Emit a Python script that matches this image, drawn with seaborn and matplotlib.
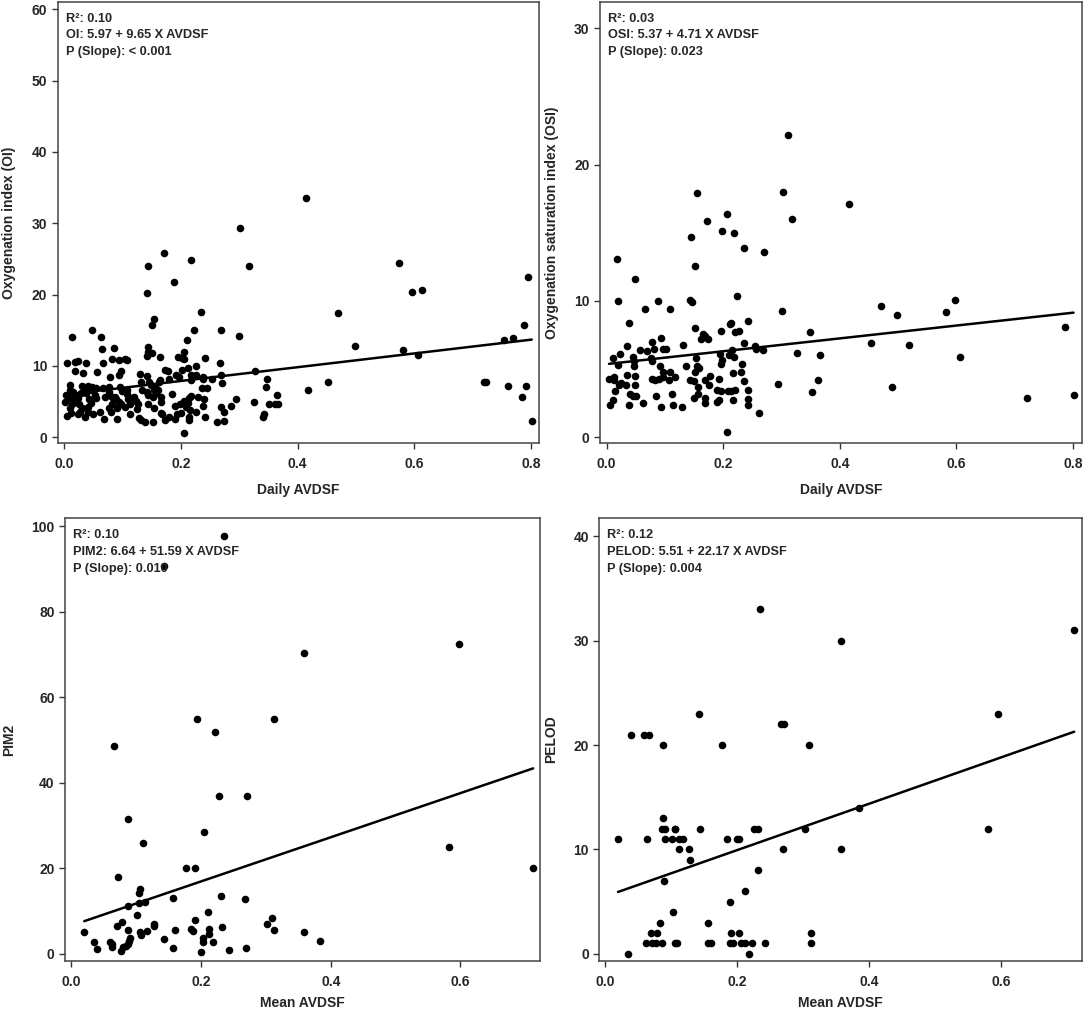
import numpy as np
import pandas as pd
import seaborn as sns
import matplotlib.pyplot as plt

# Panel A: daily AVDSF vs oxygenation index (OI)
oi_x = [0.415, 0.301, 0.171, 0.217, 0.143, 0.317, 0.573, 0.188, 0.794, 0.142,
        0.596, 0.613, 0.469, 0.234, 0.154, 0.150, 0.788, 0.047, 0.222, 0.269,
        0.014, 0.063, 0.300, 0.211, 0.754, 0.769, 0.498, 0.143, 0.064, 0.086,
        0.581, 0.143, 0.206, 0.607, 0.151, 0.142, 0.164, 0.195, 0.201, 0.241,
        0.081, 0.093, 0.104, 0.107, 0.206, 0.005, 0.019, 0.024, 0.037, 0.067,
        0.267, 0.225, 0.018, 0.056, 0.032, 0.098, 0.172, 0.177, 0.202, 0.212,
        0.326, 0.130, 0.093, 0.141, 0.191, 0.197, 0.217, 0.226, 0.237, 0.079,
        0.269, 0.180, 0.164, 0.238, 0.253, 0.348, 0.131, 0.146, 0.163, 0.218,
        0.270, 0.452, 0.719, 0.722, 0.009, 0.031, 0.041, 0.048, 0.055, 0.076,
        0.095, 0.149, 0.155, 0.345, 0.761, 0.792, 0.009, 0.015, 0.035, 0.045,
        0.066, 0.077, 0.099, 0.107, 0.133, 0.141, 0.153, 0.157, 0.161, 0.417,
        0.245, 0.236, 0.003, 0.019, 0.029, 0.037, 0.052, 0.069, 0.081, 0.087,
        0.108, 0.119, 0.144, 0.152, 0.165, 0.185, 0.218, 0.230, 0.365, 0.002,
        0.010, 0.016, 0.024, 0.043, 0.055, 0.088, 0.094, 0.109, 0.116, 0.123,
        0.166, 0.206, 0.213, 0.240, 0.294, 0.014, 0.026, 0.045, 0.082, 0.098,
        0.113, 0.126, 0.144, 0.198, 0.212, 0.325, 0.366, 0.351, 0.361, 0.785,
        0.010, 0.031, 0.041, 0.077, 0.090, 0.104, 0.153, 0.189, 0.208, 0.238,
        0.269, 0.285, 0.027, 0.041, 0.061, 0.080, 0.112, 0.124, 0.166, 0.193,
        0.200, 0.216, 0.226, 0.274, 0.342, 0.004, 0.011, 0.024, 0.035, 0.049,
        0.091, 0.128, 0.132, 0.138, 0.152, 0.167, 0.172, 0.179, 0.190, 0.213,
        0.214, 0.242, 0.068, 0.261, 0.274, 0.341, 0.801, 0.205]
oi_y = [33.5, 29.4, 25.9, 24.8, 24.0, 24.0, 24.5, 21.8, 22.5, 20.3,
        20.4, 20.7, 17.4, 17.5, 16.6, 15.7, 15.7, 15.0, 15.1, 15.1,
        14.1, 14.1, 14.2, 13.7, 13.7, 13.9, 12.8, 12.7, 12.4, 12.5,
        12.3, 12.0, 12.0, 11.5, 11.8, 11.4, 11.2, 11.3, 11.1, 11.1,
        11.0, 10.9, 11.0, 10.9, 11.0, 10.4, 10.5, 10.7, 10.4, 10.4,
        10.4, 10.0, 9.3, 9.2, 9.0, 9.3, 9.4, 9.3, 9.5, 9.7,
        9.3, 8.9, 8.7, 8.6, 8.7, 8.4, 8.7, 8.8, 8.5, 8.5,
        8.7, 8.2, 8.1, 8.2, 8.2, 8.2, 7.8, 7.7, 7.7, 8.0,
        7.6, 7.8, 7.8, 7.7, 7.4, 7.2, 7.2, 7.1, 6.9, 7.1,
        7.1, 7.4, 7.1, 7.0, 7.2, 7.2, 6.7, 6.4, 6.7, 6.6,
        6.9, 6.3, 6.5, 6.7, 6.7, 6.3, 6.7, 6.2, 6.6, 6.6,
        6.9, 6.9, 6.0, 6.0, 6.2, 6.2, 5.9, 5.7, 5.7, 5.6,
        6.1, 5.7, 6.0, 5.7, 5.6, 6.1, 5.8, 5.7, 6.0, 5.0,
        5.5, 5.3, 5.5, 5.3, 5.5, 5.3, 5.0, 5.3, 5.5, 5.1,
        5.0, 5.1, 5.5, 5.4, 5.4, 4.6, 4.7, 4.8, 4.6, 4.7,
        4.6, 4.6, 4.6, 4.6, 4.8, 4.9, 4.7, 4.6, 4.7, 5.6,
        4.1, 4.1, 4.2, 4.1, 4.1, 4.2, 4.1, 4.4, 4.2, 4.4,
        4.2, 4.4, 3.6, 3.5, 3.6, 3.5, 3.3, 3.9, 3.4, 3.3,
        3.4, 3.8, 3.6, 3.5, 3.3, 3.0, 3.4, 3.2, 2.8, 3.2,
        2.6, 2.7, 2.4, 2.1, 2.2, 3.2, 2.4, 2.9, 2.5, 2.8,
        2.4, 2.8, 2.5, 2.2, 2.3, 2.8, 2.3, 0.6]

# Panel B: daily AVDSF vs oxygenation saturation index (OSI)
osi_x = [0.311, 0.302, 0.155, 0.416, 0.206, 0.172, 0.318, 0.197, 0.219, 0.145,
         0.235, 0.270, 0.017, 0.152, 0.049, 0.224, 0.597, 0.020, 0.088, 0.143,
         0.146, 0.470, 0.065, 0.108, 0.301, 0.582, 0.498, 0.787, 0.039, 0.213,
         0.243, 0.212, 0.152, 0.196, 0.227, 0.220, 0.349, 0.165, 0.168, 0.094,
         0.162, 0.174, 0.078, 0.453, 0.131, 0.236, 0.519, 0.034, 0.096, 0.101,
         0.081, 0.255, 0.257, 0.215, 0.058, 0.070, 0.268, 0.022, 0.194, 0.327,
         0.210, 0.045, 0.218, 0.366, 0.607, 0.011, 0.076, 0.153, 0.197, 0.077,
         0.047, 0.020, 0.232, 0.196, 0.047, 0.091, 0.136, 0.155, 0.159, 0.152,
         0.230, 0.108, 0.097, 0.216, 0.034, 0.049, 0.117, 0.078, 0.083, 0.089,
         0.096, 0.178, 0.193, 0.004, 0.013, 0.012, 0.143, 0.168, 0.107, 0.025,
         0.033, 0.236, 0.363, 0.021, 0.149, 0.156, 0.176, 0.048, 0.294, 0.489,
         0.015, 0.190, 0.196, 0.208, 0.213, 0.220, 0.242, 0.040, 0.112, 0.157,
         0.352, 0.801, 0.045, 0.050, 0.085, 0.149, 0.169, 0.721, 0.011, 0.189,
         0.193, 0.216, 0.242, 0.063, 0.005, 0.039, 0.113, 0.169, 0.242, 0.094,
         0.129, 0.261, 0.206]
osi_y = [22.2, 18.0, 17.9, 17.1, 16.4, 15.9, 16.0, 15.1, 15.0, 14.7,
         13.9, 13.6, 13.1, 12.6, 11.6, 10.4, 10.1, 10.0, 10.0, 10.1,
         9.9, 9.6, 9.4, 9.4, 9.3, 9.2, 9.0, 8.1, 8.4, 8.4,
         8.5, 8.3, 8.0, 7.8, 7.8, 7.7, 7.7, 7.6, 7.4, 7.3,
         7.2, 7.2, 7.0, 6.9, 6.8, 6.9, 6.8, 6.7, 6.5, 6.5,
         6.5, 6.7, 6.5, 6.4, 6.4, 6.3, 6.4, 6.1, 6.1, 6.2,
         6.0, 5.9, 5.9, 6.0, 5.9, 5.8, 5.8, 5.8, 5.7, 5.6,
         5.6, 5.3, 5.4, 5.4, 5.2, 5.2, 5.2, 5.2, 5.1, 4.8,
         4.8, 4.8, 4.8, 4.7, 4.6, 4.5, 4.4, 4.3, 4.2, 4.3,
         4.4, 4.5, 4.3, 4.3, 4.4, 4.2, 4.2, 4.2, 4.2, 4.0,
         3.8, 4.1, 4.2, 3.8, 4.1, 3.7, 3.8, 3.8, 3.9, 3.7,
         3.4, 3.5, 3.4, 3.4, 3.4, 3.5, 3.5, 3.2, 3.2, 3.2,
         3.3, 3.1, 3.0, 3.0, 3.0, 2.9, 2.9, 2.9, 2.7, 2.6,
         2.7, 2.7, 2.8, 2.5, 2.4, 2.4, 2.4, 2.5, 2.4, 2.2,
         2.2, 1.8, 0.4]

# Panel C: mean AVDSF vs PIM2
pim_x = [0.236, 0.143, 0.597, 0.358, 0.193, 0.312, 0.221, 0.066, 0.227, 0.271,
         0.088, 0.205, 0.111, 0.582, 0.177, 0.191, 0.712, 0.072, 0.106, 0.104,
         0.230, 0.156, 0.268, 0.105, 0.113, 0.087, 0.211, 0.102, 0.190, 0.309,
         0.078, 0.302, 0.128, 0.127, 0.070, 0.233, 0.185, 0.212, 0.020, 0.088,
         0.117, 0.160, 0.188, 0.312, 0.358, 0.106, 0.213, 0.107, 0.090, 0.384,
         0.143, 0.203, 0.035, 0.059, 0.089, 0.218, 0.203, 0.062, 0.088, 0.062,
         0.085, 0.080, 0.040, 0.157, 0.270, 0.243, 0.076, 0.200]
pim_y = [97.7, 90.7, 72.5, 70.3, 55.0, 55.0, 51.8, 48.6, 36.9, 37.0,
         31.6, 28.6, 26.0, 25.0, 20.2, 20.0, 20.0, 18.0, 15.3, 14.3,
         13.5, 13.0, 12.8, 11.8, 12.2, 11.1, 9.7, 9.1, 8.0, 8.3,
         7.4, 7.1, 7.0, 6.6, 6.5, 6.2, 5.8, 5.8, 5.1, 5.5,
         5.4, 5.5, 5.3, 5.6, 5.1, 5.1, 4.7, 4.4, 3.8, 3.1,
         3.5, 3.7, 2.8, 2.9, 3.0, 2.8, 2.7, 2.3, 2.3, 1.6,
         1.9, 1.6, 1.1, 1.3, 1.4, 0.9, 0.8, 0.5]

# Panel D: mean AVDSF vs PELOD
pelod_x = [0.235, 0.711, 0.358, 0.142, 0.595, 0.267, 0.271, 0.039, 0.058, 0.066,
           0.087, 0.177, 0.308, 0.384, 0.088, 0.085, 0.091, 0.105, 0.106, 0.143,
           0.226, 0.231, 0.302, 0.581, 0.019, 0.063, 0.091, 0.101, 0.112, 0.117,
           0.184, 0.199, 0.203, 0.111, 0.127, 0.270, 0.358, 0.128, 0.232, 0.089,
           0.211, 0.189, 0.102, 0.083, 0.155, 0.069, 0.078, 0.191, 0.202, 0.312,
           0.061, 0.071, 0.076, 0.086, 0.106, 0.108, 0.156, 0.160, 0.189, 0.193,
           0.205, 0.212, 0.222, 0.242, 0.312, 0.034, 0.218]
pelod_y = [33, 31, 30, 23, 23, 22, 22, 21, 21, 21,
           20, 20, 20, 14, 13, 12, 12, 12, 12, 12,
           12, 12, 12, 12, 11, 11, 11, 11, 11, 11,
           11, 11, 11, 10, 10, 10, 10, 9, 8, 7,
           6, 5, 4, 3, 3, 2, 2, 2, 2, 2,
           1, 1, 1, 1, 1, 1, 1, 1, 1, 1,
           1, 1, 1, 1, 1, 0, 0]

panels = [
    dict(x=oi_x, y=oi_y, a=5.97, b=9.65, name='OI',
         xlabel='Daily AVDSF', ylabel='Oxygenation index (OI)',
         r2='0.10', p='< 0.001', xlim=(-0.0113, 0.814), ylim=(-0.84, 61.07),
         xticks=[0.0, 0.2, 0.4, 0.6, 0.8], yticks=[0, 10, 20, 30, 40, 50, 60],
         rect=[0.0532, 0.5611, 0.4443, 0.4372], xpad=8.5),
    dict(x=osi_x, y=osi_y, a=5.37, b=4.71, name='OSI',
         xlabel='Daily AVDSF', ylabel='Oxygenation saturation index (OSI)',
         r2='0.03', p='0.023', xlim=(-0.0115, 0.816), ylim=(-0.44, 31.95),
         xticks=[0.0, 0.2, 0.4, 0.6, 0.8], yticks=[0, 10, 20, 30],
         rect=[0.5535, 0.5611, 0.4449, 0.4372], xpad=8.5),
    dict(x=pim_x, y=pim_y, a=6.64, b=51.59, name='PIM2',
         xlabel='Mean AVDSF', ylabel='PIM2',
         r2='0.10', p='0.010', xlim=(-0.0097, 0.7227), ylim=(-1.57, 101.8),
         xticks=[0.0, 0.2, 0.4, 0.6], yticks=[0, 20, 40, 60, 80, 100],
         rect=[0.0600, 0.0488, 0.4382, 0.4380], xpad=5.5),
    dict(x=pelod_x, y=pelod_y, a=5.51, b=22.17, name='PELOD',
         xlabel='Mean AVDSF', ylabel='PELOD',
         r2='0.12', p='0.004', xlim=(-0.0093, 0.7234), ylim=(-0.65, 41.7),
         xticks=[0.0, 0.2, 0.4, 0.6], yticks=[0, 10, 20, 30, 40],
         rect=[0.5529, 0.0488, 0.4456, 0.4380], xpad=5.5),
]


def main():
    sns.set_style('ticks')
    plt.rcParams['font.family'] = ['Liberation Sans', 'DejaVu Sans']
    plt.rcParams['font.weight'] = 'bold'
    plt.rcParams['axes.labelweight'] = 'bold'

    fig = plt.figure(figsize=(10.84, 10.10), dpi=100)
    for p in panels:
        ax = fig.add_axes(p['rect'])
        df = pd.DataFrame({'x': p['x'], 'y': p['y']})
        sns.scatterplot(data=df, x='x', y='y', ax=ax, color='black',
                        s=30, linewidth=0, zorder=3)

        # fitted line from the reported regression equation
        xs = np.array([min(p['x']), max(p['x'])])
        fit = pd.DataFrame({'x': xs, 'y': p['a'] + p['b'] * xs})
        sns.lineplot(data=fit, x='x', y='y', ax=ax, color='black',
                     linewidth=1.8, zorder=4)

        ax.set_xlim(p['xlim'])
        ax.set_ylim(p['ylim'])
        ax.set_xticks(p['xticks'])
        ax.set_xticklabels([f'{t:.1f}' for t in p['xticks']])
        ax.set_yticks(p['yticks'])
        ax.tick_params(labelsize=10, length=4.5, width=1, color='#333333')
        ax.tick_params(axis='x', pad=5.5)
        ax.tick_params(axis='y', pad=3)
        for lab in ax.get_xticklabels() + ax.get_yticklabels():
            lab.set_fontweight('bold')
        for s in ax.spines.values():
            s.set_visible(True)
            s.set_linewidth(1.1)
            s.set_color('#444444')
        ax.set_xlabel(p['xlabel'], fontsize=10, labelpad=p['xpad'])
        ax.set_ylabel(p['ylabel'], fontsize=10, labelpad=11)

        lines = [f"R\u00b2: {p['r2']}",
                 f"{p['name']}: {p['a']:.2f} + {p['b']:.2f} X AVDSF",
                 f"P (Slope): {p['p']}"]
        for i, txt in enumerate(lines):
            ax.annotate(txt, xy=(0, 1), xycoords='axes fraction',
                        xytext=(8, -17 - 16.7 * i), textcoords='offset pixels',
                        ha='left', va='center', fontsize=9.2,
                        fontweight='bold', zorder=5)

    fig.savefig('out.png', dpi=100)


if __name__ == '__main__':
    main()
